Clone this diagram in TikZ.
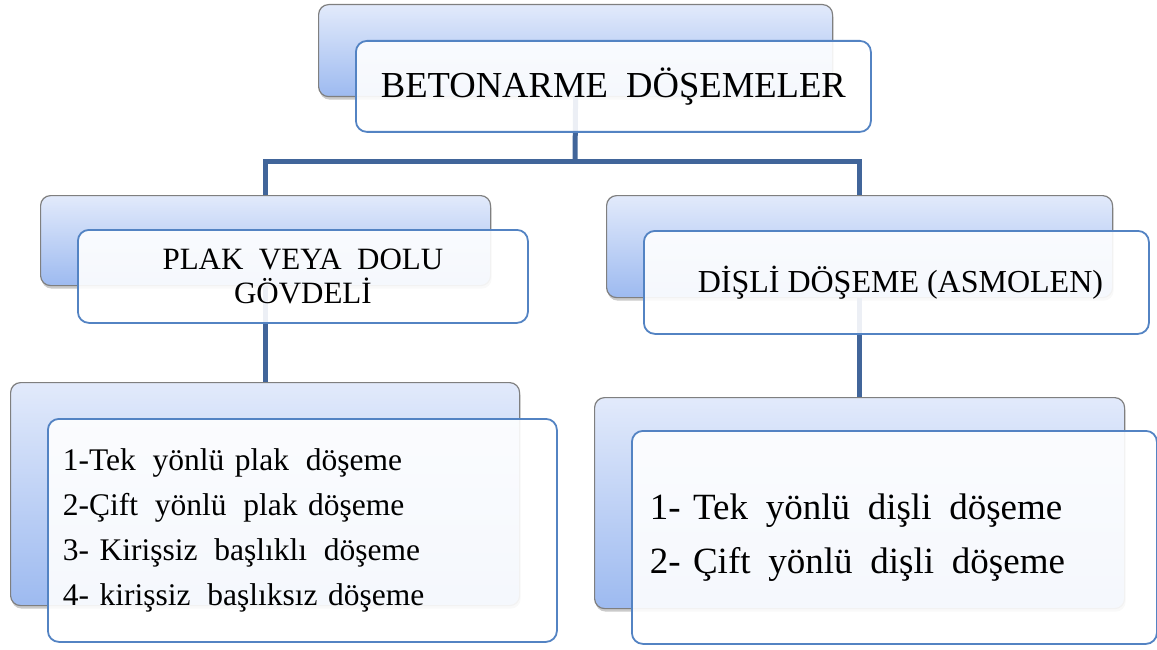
\documentclass[tikz,border=0pt]{standalone}
\usepackage{fontspec}
\setmainfont{Liberation Serif}
\usetikzlibrary{shadows}
\definecolor{backtop}{HTML}{E2EAFB}
\definecolor{backbot}{HTML}{9DBAF0}
\definecolor{backline}{HTML}{7F7F7F}
\definecolor{frontline}{HTML}{5383C3}
\definecolor{connc}{HTML}{41659A}
\newcommand\dspL{\hspace{0.53em}}
\newcommand\dspR{\hspace{0.48em}}
\tikzset{
 backbox/.style={draw=backline, line width=1.2pt, rounded corners=10pt, top color=backtop, bottom color=backbot, anchor=north west, inner sep=0pt, drop shadow={shadow xshift=1pt, shadow yshift=-3pt, opacity=0.35, fill=black!60}},
 frontbox/.style={draw=frontline, line width=1.8pt, rounded corners=11pt, fill=white, fill opacity=0.9, text opacity=1, anchor=north west, inner sep=0pt},
 conn/.style={draw=connc, line width=5pt, line join=miter},
}
\begin{document}
\begin{tikzpicture}[x=1pt,y=-1pt]
\useasboundingbox (0,0) rectangle (1157,650);
% back boxes
\node[backbox, minimum width=514pt, minimum height=92pt] (b1) at (318,4) {};
\node[backbox, minimum width=450pt, minimum height=90pt] (bL) at (40,195) {};
\node[backbox, minimum width=506pt, minimum height=102pt] (bR) at (606,195) {};
\node[backbox, minimum width=509pt, minimum height=223pt] (bBL) at (10,382) {};
\node[backbox, minimum width=530pt, minimum height=211pt] (bBR) at (594,397) {};
% connectors
\coordinate (j) at (575,162);
\draw[conn] (b1.south) -- (j);
\draw[conn] (bL.north) |- (j) -| (bR.north);
\draw[conn] (bL.south) -- (bL.south |- bBL.north);
\draw[conn] (bR.south) -- (bR.south |- bBR.north);
% front boxes
\node[frontbox, minimum width=515pt, minimum height=91pt, font=\fontsize{36.6}{44}\selectfont] (f1) at (355,40) {BETONARME\ \ DÖŞEMELER};
\node[frontbox, minimum width=450pt, minimum height=93pt, align=center, font=\fontsize{31}{34}\selectfont] (fL) at (77,229) {PLAK\ \ VEYA\ \ DOLU\\GÖVDELİ};
\node[frontbox, minimum width=505pt, minimum height=103pt, font=\fontsize{32}{38}\selectfont] (fR) at (643,230) {\ DİŞLİ DÖŞEME (ASMOLEN)};
\node[frontbox, minimum width=509pt, minimum height=223pt, inner xsep=15pt, text width=479pt, align=left, font=\fontsize{31.5}{45}\selectfont] (fBL) at (47,418) {1-Tek\dspL yönlü plak\dspL döşeme\\2-Çift\dspL yönlü\dspL plak döşeme\\3- Kirişsiz\dspL başlıklı\dspL döşeme\\4- kirişsiz\dspL başlıksız döşeme};
\node[frontbox, minimum width=525pt, minimum height=213pt, inner xsep=18pt, text width=489pt, align=left, font=\fontsize{37}{54}\selectfont] (fBR) at ([yshift=2pt]631,432) {1- Tek\dspR yönlü\dspR dişli\dspR döşeme\\2- Çift\dspR yönlü\dspR dişli\dspR döşeme};
\end{tikzpicture}
\end{document}
